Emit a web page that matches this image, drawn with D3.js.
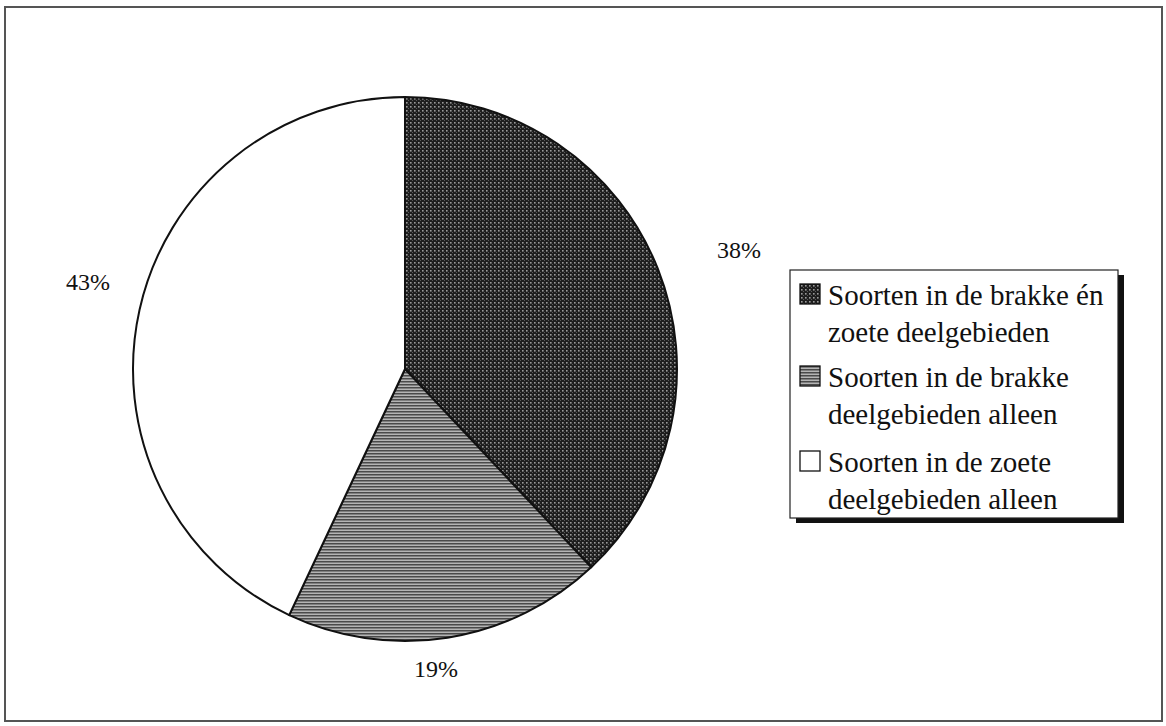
<!DOCTYPE html>
<html><head><meta charset="utf-8">
<script src="https://cdn.jsdelivr.net/npm/d3@7/dist/d3.min.js"></script>
<style>body{margin:0;background:#fff;}svg{display:block;}</style>
</head><body>
<script>
const categories = ["Soorten in de brakke én zoete deelgebieden", "Soorten in de brakke deelgebieden alleen", "Soorten in de zoete deelgebieden alleen"];
const legendLines = [["Soorten in de brakke én", "zoete deelgebieden"], ["Soorten in de brakke", "deelgebieden alleen"], ["Soorten in de zoete", "deelgebieden alleen"]];
const values = [38, 19, 43];
const valueLabels = ["38%", "19%", "43%"];

const W = 1166, H = 726;
const svg = d3.select("body").append("svg").attr("width", W).attr("height", H);
const defs = svg.append("defs");

// dotted dark pattern
const p1 = defs.append("pattern").attr("id", "dots").attr("patternUnits", "userSpaceOnUse").attr("width", 4).attr("height", 4);
p1.append("rect").attr("width", 4).attr("height", 4).attr("fill", "#1e1e1e");
p1.append("rect").attr("x", 1).attr("y", 1).attr("width", 1.6).attr("height", 1.6).attr("fill", "#9a9a9a");
p1.append("rect").attr("x", 3).attr("y", 3).attr("width", 1).attr("height", 1).attr("fill", "#5a5a5a");

// horizontal stripes pattern
const p2 = defs.append("pattern").attr("id", "stripes").attr("patternUnits", "userSpaceOnUse").attr("width", 6).attr("height", 3);
p2.append("rect").attr("width", 6).attr("height", 3).attr("fill", "#b4b4b4");
p2.append("rect").attr("y", 0).attr("width", 6).attr("height", 1.5).attr("fill", "#4a4a4a");

const fills = ["url(#dots)", "url(#stripes)", "#ffffff"];

// outer frame
svg.append("rect").attr("x", 5).attr("y", 7).attr("width", 1157).attr("height", 714)
  .attr("fill", "none").attr("stroke", "#555").attr("stroke-width", 2);

const cx = 405, cy = 369, r = 272;
const pie = d3.pie().sort(null).value(d => d);
const arcs = pie(values);
const arc = d3.arc().innerRadius(0).outerRadius(r);

const g = svg.append("g").attr("transform", `translate(${cx},${cy})`);
g.selectAll("path").data(arcs).enter().append("path")
  .attr("d", arc)
  .attr("fill", (d, i) => fills[i])
  .attr("stroke", "#111").attr("stroke-width", 2).attr("stroke-linejoin", "round");

// value labels
const labelPos = [[739, 258], [436, 677], [88, 290]];
svg.selectAll("text.val").data(arcs).enter().append("text")
  .attr("class", "val")
  .attr("x", (d, i) => labelPos[i][0]).attr("y", (d, i) => labelPos[i][1])
  .attr("text-anchor", "middle")
  .attr("font-family", "Liberation Serif, Times New Roman, serif")
  .attr("font-size", 24).attr("fill", "#111")
  .text((d, i) => valueLabels[i]);

// legend
const lx = 790, ly = 270, lw = 328, lh = 248;
svg.append("rect").attr("x", lx + 6).attr("y", ly + 5).attr("width", lw).attr("height", lh).attr("fill", "#111");
svg.append("rect").attr("x", lx).attr("y", ly).attr("width", lw).attr("height", lh)
  .attr("fill", "#fff").attr("stroke", "#222").attr("stroke-width", 1.2);

const itemY = [305, 387, 472];
const lg = svg.append("g");
categories.forEach((c, i) => {
  lg.append("rect").attr("x", 800).attr("y", itemY[i] - 21).attr("width", 20).attr("height", 20)
    .attr("fill", fills[i]).attr("stroke", "#111").attr("stroke-width", 1.3);
  legendLines[i].forEach((t, j) => {
    lg.append("text").attr("x", 828).attr("y", itemY[i] + j * 37)
      .attr("font-family", "Liberation Serif, Times New Roman, serif")
      .attr("font-size", 29).attr("fill", "#111").text(t);
  });
});
</script>
</body></html>
